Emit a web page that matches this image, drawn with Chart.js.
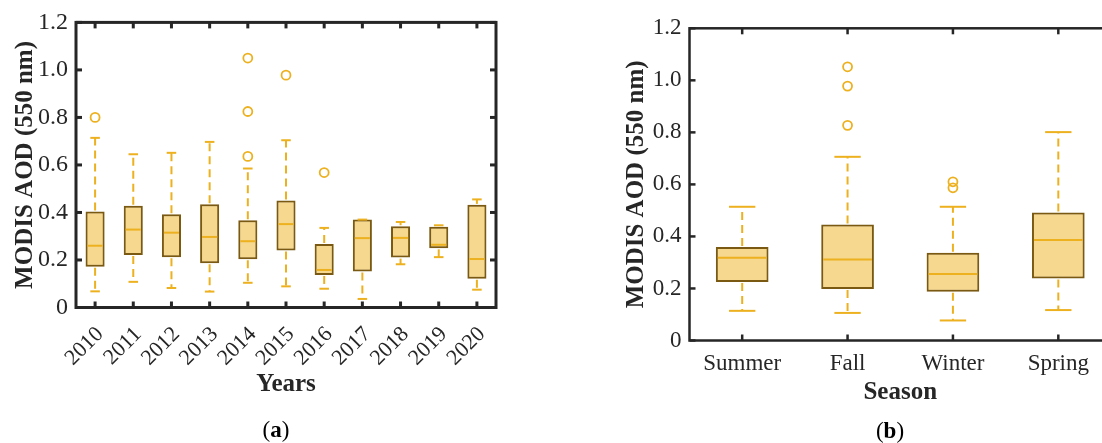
<!DOCTYPE html>
<html>
<head>
<meta charset="utf-8">
<script src="https://cdn.jsdelivr.net/npm/chart.js@4.4.1/dist/chart.umd.min.js"></script>
<style>
html,body{margin:0;padding:0;background:#fff;overflow:hidden;}
#wrap{position:relative;width:1102px;height:443px;overflow:hidden;background:#fff;}
canvas{position:absolute;top:0;}
#ca{left:0;}
#cb{left:590px;}
.cap{position:absolute;font-family:'Liberation Serif',serif;font-size:23px;color:#000;transform:translate(-50%,-50%);white-space:nowrap;}
</style>
</head>
<body>
<div id="wrap">
<canvas id="ca" width="520" height="443"></canvas>
<canvas id="cb" width="530" height="443"></canvas>
<div class="cap" style="left:276px;top:430px">(<b>a</b>)</div>
<div class="cap" style="left:890px;top:431px">(<b>b</b>)</div>
</div>
<script>
// ---------- Panel (a): yearly ----------
const years     = ['2010','2011','2012','2013','2014','2015','2016','2017','2018','2019','2020'];
const yearLow   = [0.068,0.108,0.082,0.067,0.104,0.089,0.079,0.036,0.182,0.212,0.075];
const yearQ1    = [0.172,0.221,0.211,0.186,0.203,0.240,0.137,0.151,0.210,0.249,0.121];
const yearMed   = [0.260,0.328,0.315,0.297,0.279,0.351,0.158,0.292,0.293,0.264,0.204];
const yearQ3    = [0.404,0.428,0.392,0.435,0.367,0.450,0.267,0.370,0.342,0.340,0.432];
const yearHigh  = [0.714,0.645,0.651,0.697,0.585,0.704,0.335,0.370,0.360,0.346,0.455];
const yearOutX  = ['2010','2014','2014','2014','2015','2016'];
const yearOutY  = [0.800,1.050,0.825,0.636,0.978,0.568];

// ---------- Panel (b): seasonal ----------
const seasons    = ['Summer','Fall','Winter','Spring'];
const seasonLow  = [0.114,0.106,0.077,0.117];
const seasonQ1   = [0.225,0.198,0.187,0.238];
const seasonMed  = [0.318,0.311,0.256,0.386];
const seasonQ3   = [0.359,0.446,0.337,0.492];
const seasonHigh = [0.514,0.706,0.514,0.801];
const seasonOutX = ['Fall','Fall','Fall','Winter','Winter'];
const seasonOutY = [1.052,0.978,0.827,0.610,0.587];

const yTicks = [0,0.2,0.4,0.6,0.8,1.0,1.2];

const ORANGE = '#EDB120';
const FILL = 'rgba(237,177,32,0.5)';
const EDGE = '#7a5a12';
const TXT = '#262626';

Chart.defaults.font.family = "'Liberation Serif', 'Times New Roman', serif";
Chart.defaults.color = TXT;

const boxExtras = {
  id: 'boxExtras',
  afterDatasetsDraw(chart, args, o) {
    const {ctx, chartArea: a, scales: {x, y}} = chart;
    const meta = chart.getDatasetMeta(0);
    const line = (x1, y1, x2, y2) => { ctx.beginPath(); ctx.moveTo(x1, y1); ctx.lineTo(x2, y2); ctx.stroke(); };
    ctx.save();
    meta.data.forEach((bar, i) => {
      const cx = bar.x, hw = bar.width / 2, cw = bar.width / 4;
      const pLow = y.getPixelForValue(o.low[i]);
      const pQ1 = y.getPixelForValue(o.q1[i]);
      const pMed = y.getPixelForValue(o.med[i]);
      const pQ3 = y.getPixelForValue(o.q3[i]);
      const pHigh = y.getPixelForValue(o.high[i]);
      ctx.strokeStyle = ORANGE;
      ctx.lineWidth = o.wLine;
      ctx.setLineDash(o.dash);
      if (pHigh < pQ3 - 1) line(cx, pQ3 - 1, cx, pHigh);
      if (pLow > pQ1 + 1) line(cx, pQ1 + 1, cx, pLow);
      ctx.setLineDash([]);
      line(cx - cw, pHigh, cx + cw, pHigh);
      line(cx - cw, pLow, cx + cw, pLow);
      line(cx - hw + o.box, pMed, cx + hw - o.box, pMed);
    });
    ctx.strokeStyle = TXT;
    ctx.lineWidth = o.frame;
    ctx.strokeRect(a.left, a.top, a.right - a.left, a.bottom - a.top);
    const L = o.tick;
    x.ticks.forEach((t, i) => {
      const px = x.getPixelForTick(i);
      line(px, a.bottom, px, a.bottom - L);
      line(px, a.top, px, a.top + L);
    });
    y.ticks.forEach((t, i) => {
      const py = y.getPixelForTick(i);
      line(a.left, py, a.left + L, py);
      line(a.right, py, a.right - L, py);
    });
    ctx.restore();
  }
};

function build(id, labels, low, q1, med, q3, high, outX, outY, g) {
  new Chart(document.getElementById(id), {
    type: 'bar',
    data: {
      labels: labels,
      datasets: [
        {
          type: 'bar',
          data: labels.map((l, i) => [q1[i], q3[i]]),
          backgroundColor: FILL,
          borderColor: EDGE,
          borderWidth: g.boxBorder,
          borderSkipped: false,
          barPercentage: 0.5,
          categoryPercentage: 1
        },
        {
          type: 'scatter',
          data: outX.map((l, i) => ({x: l, y: outY[i]})),
          pointRadius: g.outR,
          pointBorderWidth: 1.8,
          pointBorderColor: ORANGE,
          pointBackgroundColor: 'rgba(0,0,0,0)',
          showLine: false
        }
      ]
    },
    options: {
      responsive: false,
      animation: false,
      events: [],
      layout: {padding: {left: 0, top: g.top, right: g.right, bottom: 0}},
      plugins: {
        legend: {display: false},
        tooltip: {enabled: false},
        boxExtras: {low, q1, med, q3, high, wLine: 2, dash: [8, 5], box: g.boxBorder, frame: g.frame, tick: g.tick}
      },
      scales: {
        x: {
          type: 'category',
          offset: true,
          grid: {display: false, drawTicks: false},
          border: {display: false},
          ticks: {font: {size: g.xFont}, color: TXT, padding: g.xPad, minRotation: g.rot, maxRotation: g.rot, autoSkip: false, labelOffset: g.labOff},
          title: {display: true, text: g.xTitle, font: {size: 25, weight: 'bold'}, color: TXT, padding: {top: 0, bottom: g.xTitlePad}},
          afterFit(s) { s.height = g.xH; }
        },
        y: {
          min: 0, max: 1.2,
          afterBuildTicks(s) { s.ticks = yTicks.map(v => ({value: v})); },
          ticks: {callback: v => v === 0 ? '0' : Number(v).toFixed(1), font: {size: g.yFont}, color: TXT, padding: 8},
          grid: {display: false, drawTicks: false},
          border: {display: false},
          title: {display: true, text: 'MODIS AOD (550 nm)', font: {size: 25, weight: 'bold'}, color: TXT, padding: {top: g.yTitlePad, bottom: 0}},
          afterFit(s) { s.width = g.yW; }
        }
      }
    },
    plugins: [boxExtras]
  });
}

build('ca', years, yearLow, yearQ1, yearMed, yearQ3, yearHigh, yearOutX, yearOutY, {
  top: 21, right: 24, yW: 76, xH: 135.5, xFont: 22, yFont: 24, rot: 45, xPad: 14, labOff: 5,
  xTitle: 'Years', xTitlePad: 43, yTitlePad: 11, boxBorder: 2, outR: 4.5, frame: 3, tick: 6
});
build('cb', seasons, seasonLow, seasonQ1, seasonMed, seasonQ3, seasonHigh, seasonOutX, seasonOutY, {
  top: 28.3, right: 9, yW: 99.5, xH: 102.5, xFont: 23, yFont: 23, rot: 0, xPad: 10, labOff: 0,
  xTitle: 'Season', xTitlePad: 35, yTitlePad: 31.7, boxBorder: 2, outR: 4.5, frame: 2.5, tick: 6
});
</script>
</body>
</html>
